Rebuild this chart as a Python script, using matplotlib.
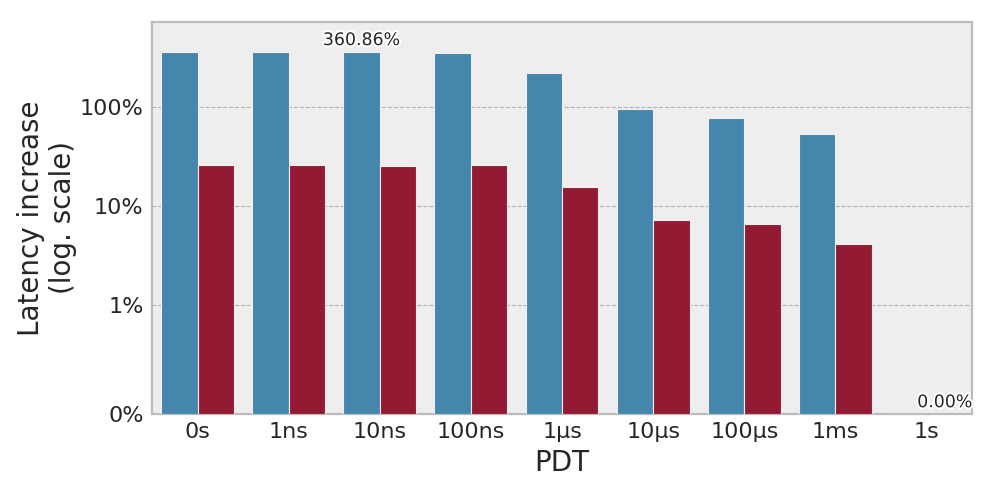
import matplotlib
matplotlib.use('Agg')
import matplotlib.pyplot as plt
import matplotlib.patheffects as pe
import numpy as np
from matplotlib.ticker import FixedLocator, FuncFormatter

# PDT settings on the x axis
pdt = ['0s', '1ns', '10ns', '100ns', '1µs', '10µs', '100µs', '1ms', '1s']
# latency increase in percent, two series
blue_vals = [357.6, 359.5, 360.86, 352.6, 223.3, 96.2, 76.8, 53.0, 0.0]
red_vals = [26.3, 25.8, 25.4, 25.8, 15.5, 7.34, 6.62, 4.20, 0.0]

blue = '#4586ac'
red = '#921a33'

fig = plt.figure(figsize=(9.96, 4.98), dpi=100)
ax = fig.add_axes([0.1526, 0.1687, 0.8234, 0.7871])
ax.set_facecolor('#eeeeee')

x = np.arange(len(pdt))
w = 0.4
ax.bar(x - w / 2, blue_vals, width=w, color=blue, edgecolor='#eeeeee', linewidth=0.8, zorder=3)
ax.bar(x + w / 2, red_vals, width=w, color=red, edgecolor='#eeeeee', linewidth=0.8, zorder=3)

ax.set_yscale('symlog', linthresh=1, linscale=0.985)
ax.set_ylim(0, max(blue_vals) * 2)
ax.set_xlim(-0.5, len(pdt) - 0.5)
ax.yaxis.set_major_locator(FixedLocator([0, 1, 10, 100]))
ax.yaxis.set_minor_locator(FixedLocator([]))
ax.yaxis.set_major_formatter(FuncFormatter(lambda v, p: '{:g}%'.format(v)))
ax.set_xticks(x)
ax.set_xticklabels(pdt)
ax.tick_params(axis='both', length=0, labelsize=16, labelcolor='#262626', pad=6)

ax.grid(True, axis='y', linestyle='--', color='#b2b2b2', linewidth=0.8, zorder=0)
ax.set_axisbelow(True)
for s in ax.spines.values():
    s.set_color('#bcbcbc')
    s.set_linewidth(1.6)

ax.set_xlabel('PDT', fontsize=20, color='#262626', labelpad=5)
ax.set_ylabel('Latency increase\n(log. scale)', fontsize=20, color='#262626', labelpad=2)

# annotate max and min
imax = int(np.argmax(blue_vals))
ax.annotate('{:.2f}%'.format(blue_vals[imax]), (x[imax] - w / 2, blue_vals[imax]),
            xytext=(0, 2), textcoords='offset points', ha='center', va='bottom',
            fontsize=12.5, color='#262626',
            path_effects=[pe.withStroke(linewidth=3, foreground='white')])
imin = len(red_vals) - 1 - int(np.argmin(red_vals[::-1]))
ax.annotate('{:.2f}%'.format(red_vals[imin]), (x[imin] + w / 2, red_vals[imin]),
            xytext=(0, 2), textcoords='offset points', ha='center', va='bottom',
            fontsize=12.5, color='#262626',
            path_effects=[pe.withStroke(linewidth=3, foreground='white')])

fig.savefig('out.png', dpi=100)
